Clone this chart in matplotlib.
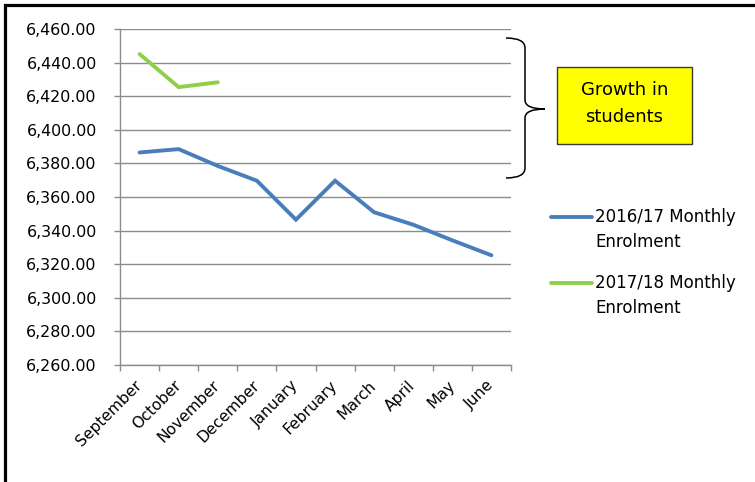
import matplotlib
matplotlib.use("Agg")
import matplotlib.pyplot as plt
from matplotlib.lines import Line2D
from matplotlib.patches import Rectangle, PathPatch
from matplotlib.path import Path
from matplotlib.ticker import FixedLocator, FuncFormatter

months = ["September", "October", "November", "December", "January",
          "February", "March", "April", "May", "June"]
enrol_1617 = [6386.5, 6388.5, 6378.5, 6369.7, 6346.5, 6369.7, 6350.9,
              6343.5, 6334.2, 6325.3]
enrol_1718 = [6445.1, 6425.4, 6428.3]
series_labels = [("2016/17 Monthly", "Enrolment"), ("2017/18 Monthly", "Enrolment")]
series_colors = ["#4A7EBB", "#8FCF4C"]
y_ticks = [6260, 6280, 6300, 6320, 6340, 6360, 6380, 6400, 6420, 6440, 6460]
box_text = ("Growth in", "students")

W, H = 755, 482
plt.rcParams['font.family'] = ['DejaVu Sans']
fig = plt.figure(figsize=(W / 100, H / 100), dpi=100)
fig.patch.set_facecolor("white")


def fx(x):
    return x / W


def fy(y):
    return 1 - y / H


ax = fig.add_axes([fx(120), fy(365), (511 - 120) / W, (365 - 29) / H])
grid_c = "#8C8C8C"

x = list(range(len(months)))
lines = []
lines.append(ax.plot(x, enrol_1617, color=series_colors[0], lw=2.8,
                     solid_capstyle="round", solid_joinstyle="miter", zorder=3)[0])
lines.append(ax.plot(x[:len(enrol_1718)], enrol_1718, color=series_colors[1], lw=2.8,
                     solid_capstyle="round", solid_joinstyle="miter", zorder=3)[0])

ax.set_xlim(-0.5, len(months) - 0.5)
ax.set_ylim(y_ticks[0], y_ticks[-1])
ax.yaxis.set_major_locator(FixedLocator(y_ticks))
ax.yaxis.set_major_formatter(FuncFormatter(lambda v, p: f"{v:,.2f}"))
ax.grid(axis="y", color=grid_c, lw=1.0)
ax.set_axisbelow(True)

ax.xaxis.set_major_locator(FixedLocator([i - 0.5 for i in range(len(months) + 1)]))
ax.xaxis.set_major_formatter(FuncFormatter(lambda v, p: ""))
ax.xaxis.set_minor_locator(FixedLocator(x))
ax.set_xticklabels(months, minor=True)
ax.tick_params(axis="x", which="minor", length=0, pad=13, labelsize=11.2)
for lab in ax.get_xticklabels(minor=True):
    lab.set_rotation(45)
    lab.set_ha("right")
    lab.set_va("center")
    lab.set_rotation_mode("anchor")
ax.tick_params(axis="x", which="major", length=4.3, color=grid_c, width=1.0)
ax.tick_params(axis="y", length=4.3, color=grid_c, width=1.0, pad=12.5, labelsize=11.4)

for s in ["top", "right"]:
    ax.spines[s].set_visible(False)
for s in ["left", "bottom"]:
    ax.spines[s].set_color(grid_c)
    ax.spines[s].set_linewidth(1.0)

# legend (manual, handle aligned with first text line)
leg_y = [217, 283]
for ln, (l1, l2), yy in zip(lines, series_labels, leg_y):
    fig.add_artist(Line2D([fx(551), fx(592)], [fy(yy), fy(yy)], color=ln.get_color(),
                          lw=2.8, solid_capstyle="round"))
    fig.text(fx(595), fy(yy), l1, fontsize=12, va="center", ha="left")
    fig.text(fx(595), fy(yy + 24.7), l2, fontsize=12, va="center", ha="left")

# brace
verts = [(506, 38), (525, 38), (525, 48), (525, 100), (525, 109), (545, 109),
         (525, 109), (525, 118), (525, 168), (525, 178), (506, 178)]
codes = [Path.MOVETO, Path.CURVE3, Path.CURVE3, Path.LINETO, Path.CURVE3, Path.CURVE3,
         Path.CURVE3, Path.CURVE3, Path.LINETO, Path.CURVE3, Path.CURVE3]
brace = Path([(fx(a), fy(b)) for a, b in verts], codes)
fig.add_artist(PathPatch(brace, fill=False, edgecolor="black", lw=1.1,
                         transform=fig.transFigure))

# yellow box
fig.add_artist(Rectangle((fx(557), fy(144)), (692 - 557) / W, (144 - 67) / H,
                         facecolor="#FFFF00", edgecolor="#3A3A3A", lw=1.0,
                         transform=fig.transFigure))
fig.text(fx(624.5), fy(90), box_text[0], fontsize=13, ha="center", va="center")
fig.text(fx(624.5), fy(116.5), box_text[1], fontsize=13, ha="center", va="center")

# outer frame (left and top edges)
fig.add_artist(Line2D([fx(4.5), fx(4.5), fx(760)], [fy(490), fy(4.5), fy(4.5)],
                      color="black", lw=2.3, solid_joinstyle="miter",
                      transform=fig.transFigure))

fig.savefig("out.png", dpi=100)
